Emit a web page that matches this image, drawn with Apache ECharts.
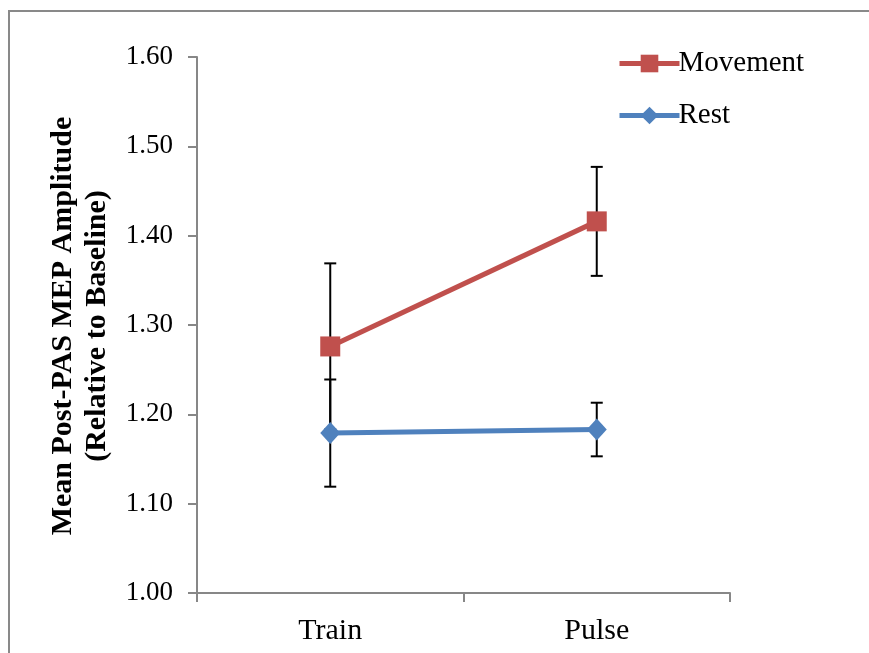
<!DOCTYPE html>
<html>
<head>
<meta charset="utf-8">
<script src="https://cdn.jsdelivr.net/npm/echarts@6/dist/echarts.min.js"></script>
<style>
html,body{margin:0;padding:0;background:#fff;}
#chart{width:869px;height:653px;}
</style>
</head>
<body>
<div id="chart"></div>
<script>
const categories = ['Train', 'Pulse'];
const movementMean = [1.276, 1.416];
const movementErr = [0.093, 0.061];
const restMean = [1.179, 1.183];
const restErr = [0.060, 0.030];
const yTicks = [1.00, 1.10, 1.20, 1.30, 1.40, 1.50, 1.60];
const yTitle = 'Mean Post-PAS MEP Amplitude\n(Relative to Baseline)';

const FONT = '"Liberation Serif", "Times New Roman", serif';
const chart = echarts.init(document.getElementById('chart'));

function errData(means, errs) {
  return means.map((m, i) => [i, m - errs[i], m + errs[i]]);
}
function renderErr(params, api) {
  const x = api.value(0);
  const lo = api.coord([x, api.value(1)]);
  const hi = api.coord([x, api.value(2)]);
  const cap = 6;
  const style = { stroke: '#000', lineWidth: 2 };
  return {
    type: 'group',
    children: [
      { type: 'line', shape: { x1: hi[0], y1: hi[1], x2: lo[0], y2: lo[1] }, style },
      { type: 'line', shape: { x1: hi[0] - cap, y1: hi[1], x2: hi[0] + cap, y2: hi[1] }, style },
      { type: 'line', shape: { x1: lo[0] - cap, y1: lo[1], x2: lo[0] + cap, y2: lo[1] }, style }
    ]
  };
}

const axisColor = '#878787';
chart.setOption({
  animation: false,
  backgroundColor: '#fff',
  grid: { left: 197, right: 139, top: 57, bottom: 60, containLabel: false },
  legend: {
    orient: 'vertical',
    left: 612,
    top: 44,
    itemWidth: 60,
    itemHeight: 22,
    itemGap: 23,
    data: ['Movement', 'Rest'],
    lineStyle: { width: 5 },
    textStyle: { fontFamily: FONT, fontSize: 29, color: '#000', padding: [0, 0, 0, -6] }
  },
  xAxis: {
    type: 'category',
    data: categories,
    boundaryGap: true,
    axisLine: { lineStyle: { color: axisColor, width: 2 } },
    axisTick: { show: true, length: 9, lineStyle: { color: axisColor, width: 2 } },
    axisLabel: { fontFamily: FONT, fontSize: 30, color: '#000', margin: 23 }
  },
  yAxis: {
    type: 'value',
    min: yTicks[0],
    max: yTicks[yTicks.length - 1],
    interval: 0.1,
    splitLine: { show: false },
    axisLine: { show: true, lineStyle: { color: axisColor, width: 2 } },
    axisTick: { show: true, length: 9, lineStyle: { color: axisColor, width: 2 } },
    axisLabel: { fontFamily: FONT, fontSize: 27, color: '#000', margin: 24,
      formatter: v => v.toFixed(2) }
  },
  graphic: [
    { type: 'rect', shape: { x: 9, y: 11, width: 900, height: 700 },
      style: { fill: 'none', stroke: '#898989', lineWidth: 2 }, z: -10 },
    { type: 'text', x: 80, y: 326, rotation: Math.PI / 2,
      style: { text: yTitle, font: 'bold 30px ' + FONT, fill: '#000',
        align: 'center', verticalAlign: 'middle', lineHeight: 34 } }
  ],
  series: [
    { name: 'MovementErr', type: 'custom', renderItem: renderErr,
      data: errData(movementMean, movementErr), z: 1, silent: true },
    { name: 'RestErr', type: 'custom', renderItem: renderErr,
      data: errData(restMean, restErr), z: 1, silent: true },
    { name: 'Movement', type: 'line', data: movementMean, symbol: 'rect', symbolSize: 20,
      itemStyle: { color: '#C0504D' }, lineStyle: { color: '#C0504D', width: 5 }, z: 3 },
    { name: 'Rest', type: 'line', data: restMean, symbol: 'diamond', symbolSize: [20, 22],
      itemStyle: { color: '#4F81BD' }, lineStyle: { color: '#4F81BD', width: 5 }, z: 3 }
  ]
});
</script>
</body>
</html>
